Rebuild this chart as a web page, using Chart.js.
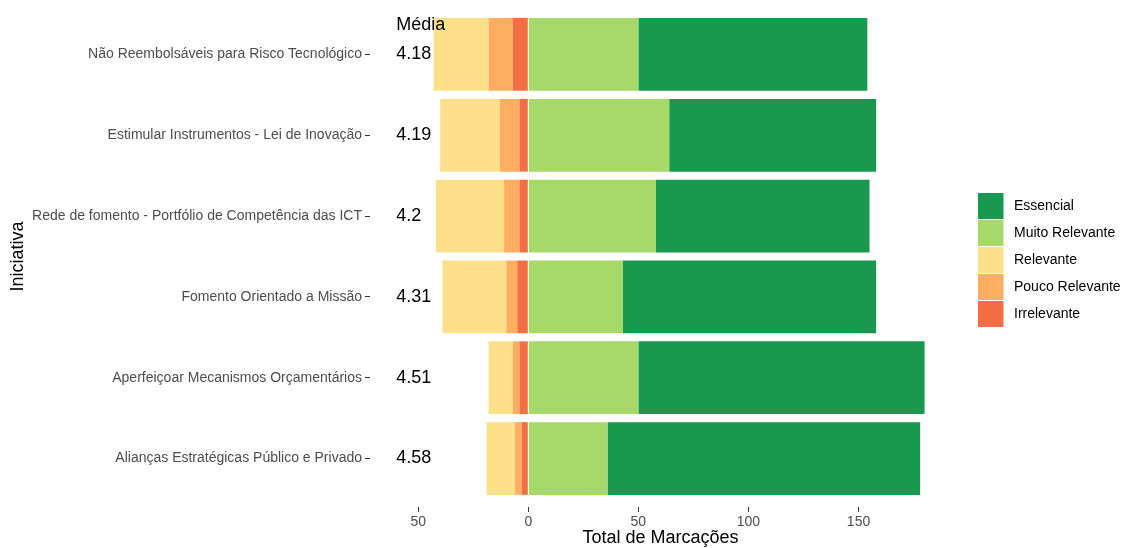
<!DOCTYPE html>
<html>
<head>
<meta charset="utf-8">
<script src="https://cdn.jsdelivr.net/npm/chart.js@4/dist/chart.umd.min.js"></script>
<style>
  html, body { margin: 0; padding: 0; background: #ffffff; }
  #wrap { width: 1121px; height: 548px; }
</style>
</head>
<body>
<div id="wrap"><canvas id="chart" width="1121" height="548"></canvas></div>
<script>
// Initiatives, top to bottom
const categories = [
  'Não Reembolsáveis para Risco Tecnológico',
  'Estimular Instrumentos - Lei de Inovação',
  'Rede de fomento - Portfólio de Competência das ICT',
  'Fomento Orientado a Missão',
  'Aperfeiçoar Mecanismos Orçamentários',
  'Alianças Estratégicas Público e Privado'
];

// Number of answers per rating level
const irrelevante    = [7, 4, 4, 5, 4, 3];
const poucoRelevante = [11, 9, 7, 5, 3, 3];
const relevante      = [25, 27, 31, 29, 11, 13];
const muitoRelevante = [50, 64, 58, 43, 50, 36];
const essencial      = [104, 94, 97, 115, 130, 142];

// Tick positions on the count axis (negative side shown as absolute values)
const xTicks = [-50, 0, 50, 100, 150];

const levelNames  = ['Irrelevante', 'Pouco Relevante', 'Relevante', 'Muito Relevante', 'Essencial'];
const levelColors = ['#F46D43', '#FDAE61', '#FEE08B', '#A6D96A', '#1A9850'];
const levelCounts = [irrelevante, poucoRelevante, relevante, muitoRelevante, essencial];

// Mean score per initiative (1 = Irrelevante ... 5 = Essencial)
const medias = categories.map((_, i) => {
  let n = 0, s = 0;
  levelCounts.forEach((arr, k) => { n += arr[i]; s += arr[i] * (k + 1); });
  return String(Number((s / n).toFixed(2)));
});

const FONT = "'Liberation Sans', Arial, sans-serif";

// Low ratings extend to the left of zero, high ratings to the right
const datasets = levelNames.map((name, k) => ({
  label: name,
  data: levelCounts[k].map((v, i) => ({ x: k < 3 ? -v : v, y: i })),
  backgroundColor: levelColors[k],
  borderWidth: 0,
  barPercentage: 0.9,
  categoryPercentage: 1.0
}));

const annotations = {
  id: 'annotations',
  afterDatasetsDraw(chart) {
    const { ctx, scales: { x, y } } = chart;
    ctx.save();
    ctx.fillStyle = '#000000';
    ctx.font = '18px ' + FONT;
    ctx.textAlign = 'left';
    ctx.textBaseline = 'middle';
    const x0 = x.getPixelForValue(-60);
    ctx.fillText('Média', x0, y.getPixelForValue(-0.37));
    medias.forEach((m, i) => ctx.fillText(m, x0, y.getPixelForValue(i)));
    ctx.restore();
  },
  afterDraw(chart) {
    // legend: highest level first
    const { ctx } = chart;
    ctx.save();
    ctx.font = '14px ' + FONT;
    ctx.textAlign = 'left';
    ctx.textBaseline = 'middle';
    const ds = chart.data.datasets.slice().reverse();
    ds.forEach((d, j) => {
      const top = 193 + j * 27;
      ctx.fillStyle = d.backgroundColor;
      ctx.fillRect(978, top, 25.5, 26);
      ctx.fillStyle = '#000000';
      ctx.fillText(d.label, 1014, top + 13.5);
    });
    ctx.restore();
  }
};

new Chart(document.getElementById('chart'), {
  type: 'bar',
  data: { datasets },
  plugins: [annotations],
  options: {
    indexAxis: 'y',
    responsive: false,
    animation: false,
    devicePixelRatio: 1,
    layout: { padding: { left: 0, right: 170, top: 6, bottom: 0 } },
    plugins: { legend: { display: false }, tooltip: { enabled: false } },
    scales: {
      x: {
        type: 'linear',
        stacked: true,
        offset: false,
        min: -71.9,
        max: 192,
        afterBuildTicks(scale) { scale.ticks = xTicks.map(v => ({ value: v })); },
        afterFit(scale) { scale.height = 41; scale.paddingLeft = 0; scale.paddingRight = 0; },
        border: { display: false },
        grid: { offset: false, drawOnChartArea: false, drawTicks: true, tickLength: 5, tickColor: '#333333', tickWidth: 1 },
        ticks: {
          padding: 2,
          color: '#4D4D4D',
          font: { family: FONT, size: 14 },
          callback: v => String(Math.abs(v))
        },
        title: {
          display: true,
          text: 'Total de Marcações',
          color: '#000000',
          font: { family: FONT, size: 18, lineHeight: 1 },
          padding: { top: 0, bottom: 1 }
        }
      },
      y: {
        type: 'linear',
        stacked: true,
        reverse: true,
        offset: false,
        min: -0.6,
        max: 5.6,
        afterBuildTicks(scale) { scale.ticks = categories.map((_, i) => ({ value: i })); },
        afterFit(scale) { scale.width = 370; scale.paddingTop = 0; scale.paddingBottom = 0; },
        border: { display: false },
        grid: { offset: false, drawOnChartArea: false, drawTicks: true, tickLength: 5, tickColor: '#333333', tickWidth: 1 },
        ticks: {
          padding: 3,
          color: '#4D4D4D',
          autoSkip: false,
          font: { family: FONT, size: 14 },
          callback: v => categories[v]
        },
        title: {
          display: true,
          text: 'Iniciativa',
          color: '#000000',
          font: { family: FONT, size: 18, lineHeight: 1 },
          padding: { top: 9, bottom: 0 }
        }
      }
    }
  }
});
</script>
</body>
</html>
